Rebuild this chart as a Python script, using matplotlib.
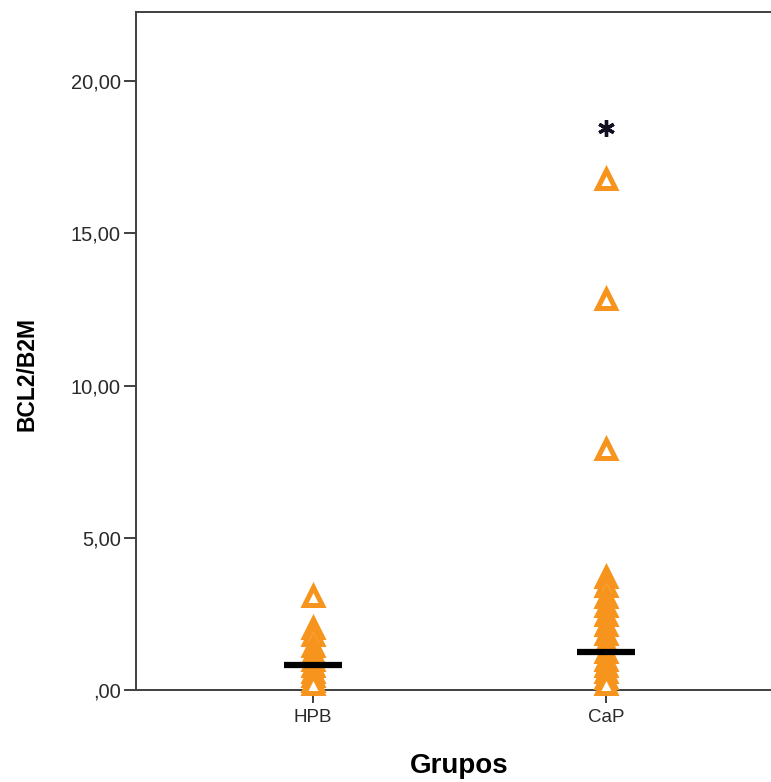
import matplotlib
matplotlib.use("Agg")
import matplotlib.pyplot as plt

groups = ["HPB", "CaP"]
hpb_values = [3.1, 2.05, 1.8, 1.45, 1.2, 1.0, 0.8, 0.6, 0.45, 0.3, 0.2]
cap_values = [16.8, 12.85, 7.9, 3.7, 3.4, 3.05, 2.75, 2.45, 2.15, 1.85, 1.55,
              1.25, 1.0, 0.8, 0.6, 0.4, 0.2]
medians = [0.82, 1.24]
y_ticks = [0, 5, 10, 15, 20]
y_tick_labels = [",00", "5,00", "10,00", "15,00", "20,00"]
star_value = 18.45

ORANGE = "#F7941D"
SPINE = "#404040"

plt.rcParams["font.family"] = ["Liberation Sans", "DejaVu Sans"]

fig = plt.figure(figsize=(7.71, 7.82), dpi=100)
ax = fig.add_axes([136 / 771, 1 - 690 / 782, (783 - 136) / 771, (690 - 12) / 782])

for i, vals in enumerate([hpb_values, cap_values], start=1):
    ax.plot([i] * len(vals), vals, linestyle="none", marker="^", markersize=13.5,
            markerfacecolor="white", markeredgecolor=ORANGE, markeredgewidth=3.6,
            zorder=3, clip_on=False)

for i, m in enumerate(medians, start=1):
    ax.hlines(m, i - 0.1, i + 0.1, color="black", linewidth=4.5, zorder=4)

# asterisk above CaP
ax.plot([2], [star_value], linestyle="none", marker=(6, 2, 0), markersize=12,
        markeredgewidth=2.4, color="#111122", zorder=4)

ax.set_xlim(0.396, 2.604)
ax.set_ylim(0, 22.27)
ax.set_xticks([1, 2])
ax.set_xticklabels(groups, fontsize=13.5)
ax.set_yticks(y_ticks)
ax.set_yticklabels(y_tick_labels, fontsize=14.5)
ax.tick_params(axis="both", direction="out", length=9, width=1.4, color=SPINE,
               labelcolor="#2a2a2a", pad=2)
ax.tick_params(axis="x", pad=5)

for spine in ax.spines.values():
    spine.set_color(SPINE)
    spine.set_linewidth(1.4)

fig.text(27 / 771, 1 - 374 / 782, "BCL2/B2M", rotation=90, ha="center", va="center",
         fontsize=16.5, fontweight="bold")
fig.text(459 / 771, 1 - 766 / 782, "Grupos", ha="center", va="center",
         fontsize=20, fontweight="bold")

fig.savefig("out.png", dpi=100)
